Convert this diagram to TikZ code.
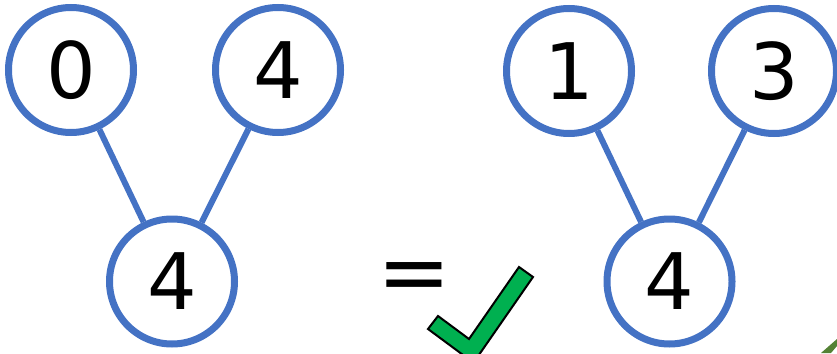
\documentclass[tikz,border=0pt]{standalone}
\usepackage{fontspec}
\setmainfont{DejaVu Sans}
\definecolor{nodeblue}{HTML}{4472C4}
\definecolor{checkgreen}{HTML}{00B050}
\definecolor{leafgreen}{HTML}{548235}
\tikzset{
  numnode/.style={circle, draw=nodeblue, line width=7pt, minimum size=125pt, inner sep=0pt, font=\fontsize{78}{80}\selectfont},
  edgeline/.style={draw=nodeblue, line width=6pt},
}
\begin{document}
\begin{tikzpicture}[x=1pt,y=-1pt]
\useasboundingbox (0,0) rectangle (837,353);
\clip (0,0) rectangle (837,353);
\node[numnode] (a0) at (71,70) {0};
\node[numnode] (a4) at (278,70) {4};
\node[numnode] (b4) at (172,281.5) {4};
\node[numnode] (c1) at (569,71) {1};
\node[numnode] (c3) at (774,71) {3};
\node[numnode] (d4) at (669.5,281.5) {4};
\draw[edgeline] (a0) -- (b4);
\draw[edgeline] (a4) -- (b4);
\draw[edgeline] (c1) -- (d4);
\draw[edgeline] (c3) -- (d4);
\node[font=\fontsize{88}{90}\selectfont, inner sep=0pt] (eq) at (414.5,283) {=};
\draw[fill=checkgreen, draw=black, line width=2pt, line join=miter]
  (428,329) -- (438,316) -- (469,339) -- (519,267) -- (533,277) -- (473.5,362.7) -- cycle;
\fill[leafgreen] (821,353) -- (831,353) -- (837,346) -- (837,339) -- cycle;
\end{tikzpicture}
\end{document}
